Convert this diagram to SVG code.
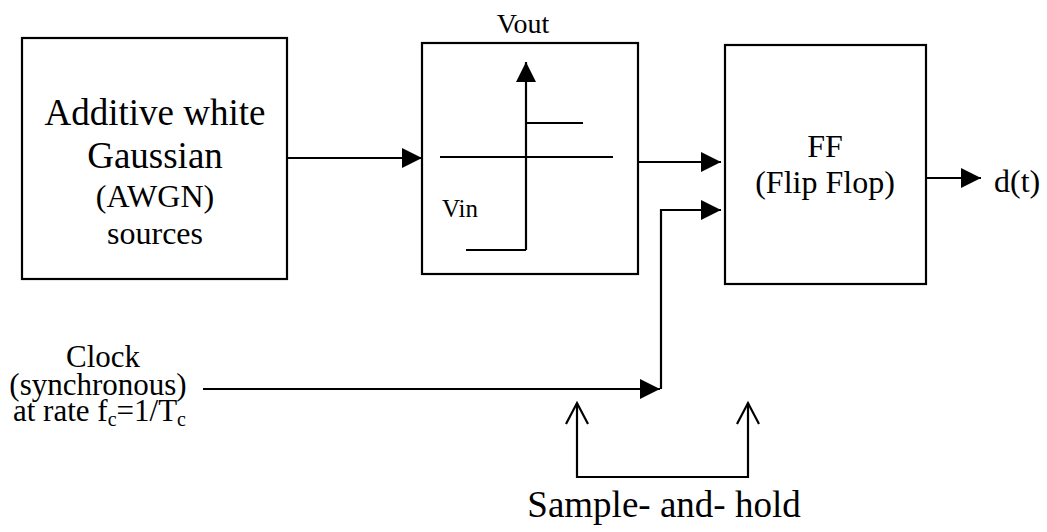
<svg xmlns="http://www.w3.org/2000/svg" width="1047" height="532" viewBox="0 0 1047 532">
<style>
.box{fill:#fff;stroke:#000;stroke-width:2.2}
.ln{fill:none;stroke:#000;stroke-width:2.2}
text{font-family:"Liberation Serif","Times New Roman",serif;fill:#000}
.c{text-anchor:middle}
</style>
<defs>
<marker id="ah" markerWidth="20" markerHeight="20" viewBox="0 0 20 20" refX="20" refY="10" markerUnits="userSpaceOnUse" orient="auto">
<path d="M0,0 L20,10 L0,20 Z" fill="#000"/>
</marker>
</defs>
<rect width="1047" height="532" fill="#fff"/>
<g id="awgn">
<rect class="box" x="22" y="38" width="265" height="241"/>
<text class="c" x="155" y="125" font-size="37">Additive white</text>
<text class="c" x="155" y="168" font-size="37">Gaussian</text>
<text class="c" x="155" y="207" font-size="32">(AWGN)</text>
<text class="c" x="155" y="244" font-size="32">sources</text>
</g>
<g id="comparator">
<rect class="box" x="422" y="43" width="216" height="231"/>
<text class="c" x="523" y="33" font-size="28">Vout</text>
<line class="ln" x1="526" y1="250" x2="526" y2="62" marker-end="url(#ah)"/>
<polyline class="ln" points="526,123 583,123"/>
<line class="ln" x1="440" y1="157" x2="613" y2="157"/>
<polyline class="ln" points="466,250 526,250"/>
<text x="442" y="217" font-size="25">Vin</text>
</g>
<g id="ff">
<rect class="box" x="725" y="45" width="201" height="239"/>
<text class="c" x="825" y="157" font-size="32">FF</text>
<text class="c" x="825" y="193" font-size="32">(Flip Flop)</text>
</g>
<g id="clock">
<text class="c" x="103" y="367" font-size="31">Clock</text>
<text class="c" x="98" y="395" font-size="31">(synchronous)</text>
<text x="13" y="421" font-size="31">at rate f<tspan font-size="20" dy="5">c</tspan><tspan dy="-5">=1/T</tspan><tspan font-size="20" dy="5">c</tspan></text>
</g>
<g id="output-label">
<text x="994" y="192" font-size="32">d(t)</text>
</g>
<g id="sample-hold">
<text class="c" x="664" y="517" font-size="37">Sample- and- hold</text>
</g>
<g id="connectors">
<line class="ln" x1="287" y1="158" x2="422" y2="158" marker-end="url(#ah)"/>
<line class="ln" x1="638" y1="162" x2="721" y2="162" marker-end="url(#ah)"/>
<line class="ln" x1="203" y1="389" x2="660" y2="389" marker-end="url(#ah)"/>
<polyline class="ln" points="661,389 661,210 721,210" marker-end="url(#ah)"/>
<line class="ln" x1="926" y1="178" x2="981" y2="178" marker-end="url(#ah)"/>
<polyline class="ln" points="577,403 577,477 748,477 748,403"/>
<polyline class="ln" points="566,424 577,403 588,424"/>
<polyline class="ln" points="737,424 748,403 759,424"/>
</g>
</svg>
